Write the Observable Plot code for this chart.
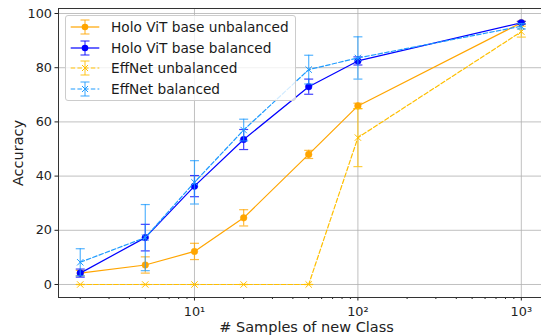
<!DOCTYPE html>
<html>
<head>
<meta charset="utf-8">
<script src="https://cdn.jsdelivr.net/npm/d3@7"></script>
<script src="https://cdn.jsdelivr.net/npm/@observablehq/plot@0.6"></script>
<style>
  html, body { margin: 0; padding: 0; background: #fff; overflow: hidden; }
  #wrap { position: relative; width: 541px; height: 335px; overflow: hidden; font-family: "DejaVu Sans", sans-serif; }
  #wrap > svg { position: absolute; left: 0; top: 0; max-width: none !important; }
  #legend { position: absolute; left: 65px; top: 15px; width: 231px; height: 86px;
    background: rgba(255,255,255,0.8); border: 1px solid #cccccc; border-radius: 3px; box-sizing: border-box; }
  .row { position: absolute; left: 0; height: 20px; display: flex; align-items: center; }
  .row svg { flex: none; }
  .row span { font-family: "DejaVu Sans", sans-serif; font-size: 13.7px; color: #1a1a1a; margin-left: 5px; white-space: nowrap; }
</style>
</head>
<body>
<div id="wrap"></div>
<script>
// ---- data ----
const samples = [2, 5, 10, 20, 50, 100, 1000];
const holoUnbal = [4.2, 7.2, 12.2, 24.6, 48.0, 65.9, 96.6];
const holoUnbalErr = [1.0, 3.0, 3.0, 3.0, 1.5, 1.0, 0.5];
const holoBal = [4.2, 17.3, 36.3, 53.5, 73.0, 82.5, 96.6];
const holoBalErr = [1.5, 4.9, 3.9, 3.7, 2.8, 1.5, 0.5];
const effUnbal = [0, 0, 0, 0, 0, 54.2, 93.3];
const effUnbalErr = [0, 0, 0, 0, 0, 10.7, 2.0];
const effBal = [8.2, 17.3, 37.7, 57.0, 79.3, 83.6, 95.3];
const effBalErr = [5.0, 12.2, 8.0, 4.0, 5.3, 7.8, 1.0];

const seriesNames = ["Holo ViT base unbalanced", "Holo ViT base balanced", "EffNet unbalanced", "EffNet balanced"];
const seriesValues = [holoUnbal, holoBal, effUnbal, effBal];
const seriesErrors = [holoUnbalErr, holoBalErr, effUnbalErr, effBalErr];
const seriesColors = ["#ffa500", "#0000ff", "#ffbf00", "#1e9bff"];
const seriesDash = [null, null, "4.5,2.2", "4.5,2.2"];
const seriesSymbol = ["circle", "circle", "times", "times"];

const yTicks = [0, 20, 40, 60, 80, 100];
const xTicks = [10, 100, 1000];
const xTickLabels = ["10\u00b9", "10\u00b2", "10\u00b3"];
const xMinor = [2,3,4,5,6,7,8,9,20,30,40,50,60,70,80,90,200,300,400,500,600,700,800,900];

// ---- build tidy table ----
const rows = [];
seriesNames.forEach((name, si) => {
  samples.forEach((s, i) => {
    rows.push({series: name, si, x: s, y: seriesValues[si][i],
      lo: seriesValues[si][i] - seriesErrors[si][i], hi: seriesValues[si][i] + seriesErrors[si][i]});
  });
});

const capSymbol = {draw(ctx, size) { const r = Math.sqrt(size / Math.PI); ctx.moveTo(-r, 0); ctx.lineTo(r, 0); }};

const marks = [
  Plot.gridY(yTicks, {stroke: "#b0b0b0", strokeOpacity: 1, strokeWidth: 0.8}),
  Plot.gridX(xTicks, {stroke: "#b0b0b0", strokeOpacity: 1, strokeWidth: 0.8}),
];
seriesNames.forEach((name, si) => {
  const d = rows.filter(r => r.si === si);
  const c = seriesColors[si];
  marks.push(Plot.ruleX(d, {x: "x", y1: "lo", y2: "hi", stroke: c, strokeWidth: 1.2, strokeOpacity: 0.75}));
  marks.push(Plot.dot(d, {x: "x", y: "lo", symbol: capSymbol, r: 4.5, stroke: c, strokeWidth: 1.2, strokeOpacity: 0.75}));
  marks.push(Plot.dot(d, {x: "x", y: "hi", symbol: capSymbol, r: 4.5, stroke: c, strokeWidth: 1.2, strokeOpacity: 0.75}));
  marks.push(Plot.line(d, {x: "x", y: "y", stroke: c, strokeWidth: 1.2, strokeDasharray: seriesDash[si]}));
  if (seriesSymbol[si] === "circle")
    marks.push(Plot.dot(d, {x: "x", y: "y", r: 3.3, fill: c, stroke: c, strokeWidth: 0.5}));
  else
    marks.push(Plot.dot(d, {x: "x", y: "y", symbol: "times", r: 3, stroke: c, strokeWidth: 1}));
});
marks.push(
  Plot.axisY(yTicks, {tickSize: 3.5, tickPadding: 3, fontSize: 12.8, stroke: "#222", color: "#222",
    label: "Accuracy", labelAnchor: "center", labelArrow: "none", labelOffset: 46}),
  Plot.axisX(xMinor, {tickSize: 2, tickFormat: () => "", stroke: "#222", label: null}),
  Plot.axisX(xTicks, {tickSize: 3.5, tickPadding: 6, fontSize: 12.8, stroke: "#222", color: "#222",
    tickFormat: (d) => xTickLabels[xTicks.indexOf(d)],
    label: "# Samples of new Class", labelAnchor: "center", labelArrow: "none", labelOffset: 34}),
  Plot.frame({stroke: "#333", strokeWidth: 1})
);

const chart = Plot.plot({
  width: 554, height: 335,
  marginLeft: 58, marginRight: 0, marginTop: 8, marginBottom: 38,
  style: {fontFamily: '"DejaVu Sans", sans-serif', fontSize: "12.8px", background: "#fff", overflow: "visible", maxWidth: "none"},
  x: {type: "log", domain: [Math.pow(10, 0.168), Math.pow(10, 3.203)]},
  y: {domain: [-4.8, 101.85]},
  marks
});
chart.style.maxWidth = "none";
const wrap = document.getElementById("wrap");
wrap.appendChild(chart);
d3.select(chart).selectAll("[aria-label='y-axis label'] text, [aria-label='x-axis label'] text")
  .style("font-size", "14.5px");

// ---- legend ----
const legend = document.createElement("div");
legend.id = "legend";
seriesNames.forEach((name, si) => {
  const row = document.createElement("div");
  row.className = "row";
  row.style.top = (1 + si * 20.5) + "px";
  const c = seriesColors[si];
  const dash = seriesDash[si] ? `stroke-dasharray="${seriesDash[si]}"` : "";
  const marker = seriesSymbol[si] === "circle"
    ? `<circle cx="15" cy="10" r="3.3" fill="${c}"/>`
    : `<path d="M12,7L18,13M12,13L18,7" stroke="${c}" stroke-width="1"/>`;
  row.innerHTML = `<svg width="36" height="20" style="margin-left:4px">
    <line x1="0.7" y1="10" x2="29.3" y2="10" stroke="${c}" stroke-width="1.2" ${dash}/>
    <line x1="15" y1="3" x2="15" y2="17" stroke="${c}" stroke-width="1.2" stroke-opacity="0.75"/>
    <line x1="10.5" y1="3" x2="19.5" y2="3" stroke="${c}" stroke-width="1.2" stroke-opacity="0.75"/>
    <line x1="10.5" y1="17" x2="19.5" y2="17" stroke="${c}" stroke-width="1.2" stroke-opacity="0.75"/>
    ${marker}</svg><span>${name}</span>`;
  legend.appendChild(row);
});
wrap.appendChild(legend);
</script>
</body>
</html>
